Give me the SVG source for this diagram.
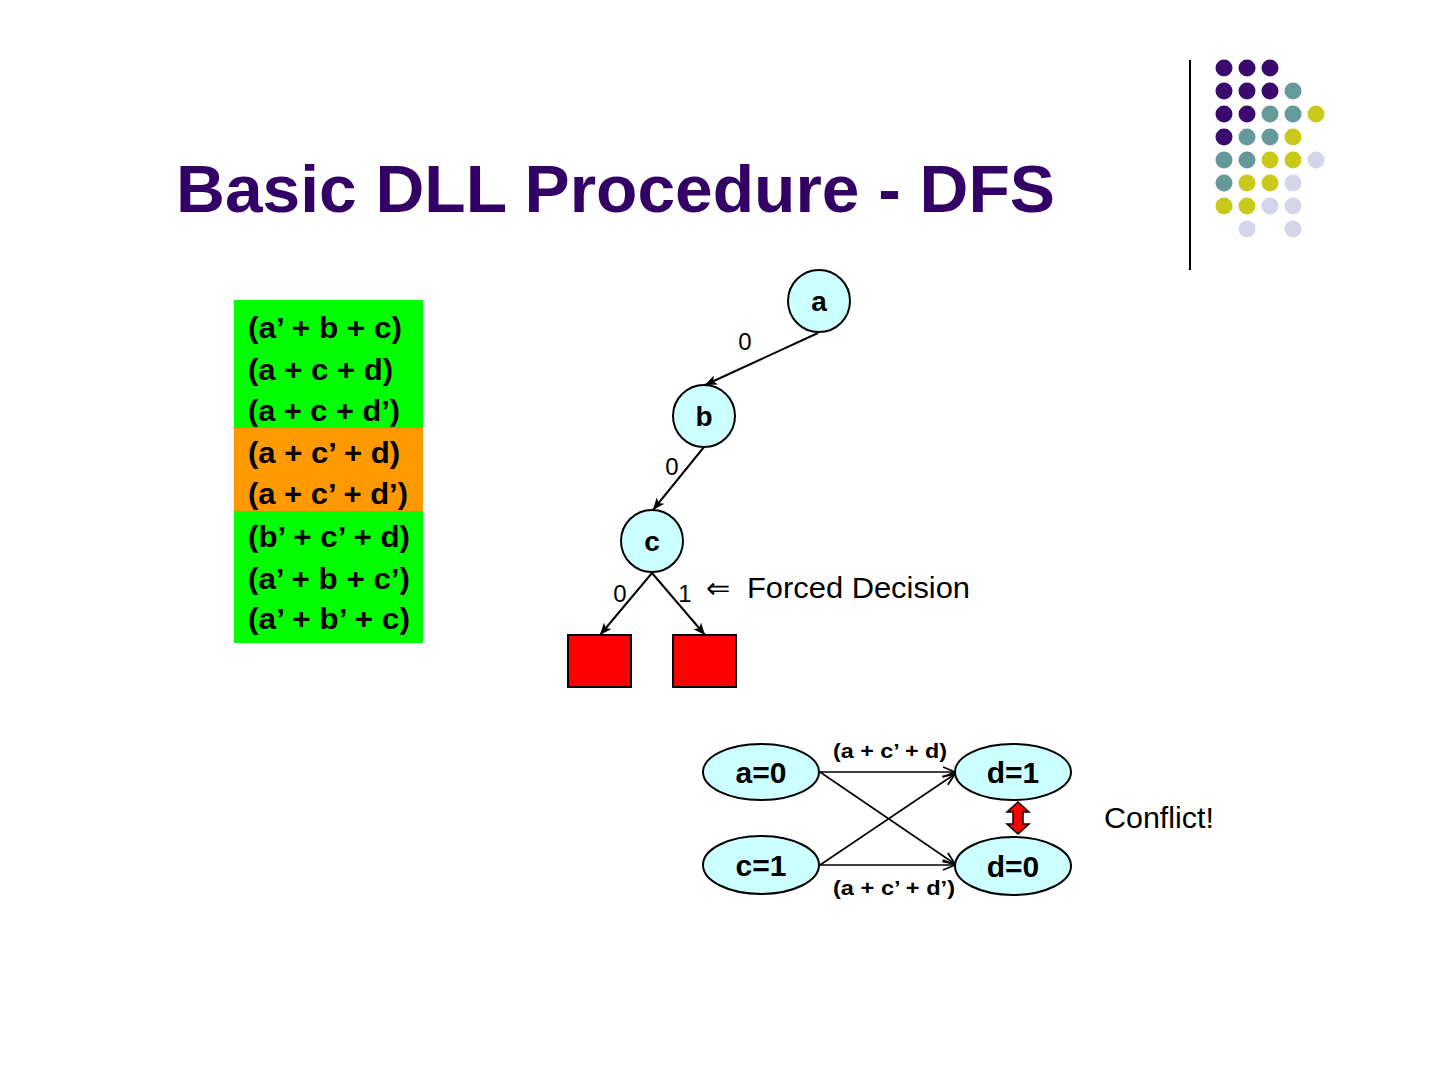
<svg xmlns="http://www.w3.org/2000/svg" width="1440" height="1080" viewBox="0 0 1440 1080">
<style>
  .title{font-family:"Liberation Sans",Arial,sans-serif;font-weight:bold;font-size:67px;fill:#330066}
  .clause{font-family:"Liberation Sans",Arial,sans-serif;font-weight:bold;font-size:29px;fill:#000}
  .node{fill:#CCFFFF;stroke:#000;stroke-width:2}
  .nlabel{font-family:"Liberation Sans",Arial,sans-serif;font-weight:bold;font-size:28px;fill:#000;text-anchor:middle}
  .olabel{font-family:"Liberation Sans",Arial,sans-serif;font-weight:bold;font-size:30px;fill:#000;text-anchor:middle}
  .elabel{font-family:"Liberation Sans",Arial,sans-serif;font-size:24px;fill:#000;text-anchor:middle}
  .blabel{font-family:"Liberation Sans",Arial,sans-serif;font-weight:bold;font-size:20px;fill:#000}
  .plain{font-family:"Liberation Sans",Arial,sans-serif;font-size:29px;fill:#000}
  .leaf{fill:#FF0000;stroke:#000;stroke-width:2}
  .edge{stroke:#000;stroke-width:2;fill:none}
  .iedge{stroke:#000;stroke-width:1.6;fill:none}
  .P{fill:#3A0A6C}.T{fill:#669999}.Y{fill:#C9C91A}.L{fill:#D5D5EA}
</style>
<defs>
  <marker id="tri" viewBox="0 0 12 10" refX="12" refY="5" markerWidth="12" markerHeight="10" markerUnits="userSpaceOnUse" orient="auto">
    <path d="M0,0 L12,5 L0,10 L3,5 Z" fill="#000"/>
  </marker>
  <marker id="vee" viewBox="0 0 14 12" refX="13" refY="6" markerWidth="14" markerHeight="12" markerUnits="userSpaceOnUse" orient="auto">
    <path d="M1,1 L13,6 L1,11" fill="none" stroke="#000" stroke-width="1.8"/>
  </marker>
</defs>
<rect width="1440" height="1080" fill="#fff"/>

<g id="decoration">
  <line x1="1190" y1="60" x2="1190" y2="270" stroke="#000" stroke-width="2"/>
  <g>
    <circle class="P" cx="1224" cy="68" r="8.5"/><circle class="P" cx="1247" cy="68" r="8.5"/><circle class="P" cx="1270" cy="68" r="8.5"/>
    <circle class="P" cx="1224" cy="91" r="8.5"/><circle class="P" cx="1247" cy="91" r="8.5"/><circle class="P" cx="1270" cy="91" r="8.5"/><circle class="T" cx="1293" cy="91" r="8.5"/>
    <circle class="P" cx="1224" cy="114" r="8.5"/><circle class="P" cx="1247" cy="114" r="8.5"/><circle class="T" cx="1270" cy="114" r="8.5"/><circle class="T" cx="1293" cy="114" r="8.5"/><circle class="Y" cx="1316" cy="114" r="8.5"/>
    <circle class="P" cx="1224" cy="137" r="8.5"/><circle class="T" cx="1247" cy="137" r="8.5"/><circle class="T" cx="1270" cy="137" r="8.5"/><circle class="Y" cx="1293" cy="137" r="8.5"/>
    <circle class="T" cx="1224" cy="160" r="8.5"/><circle class="T" cx="1247" cy="160" r="8.5"/><circle class="Y" cx="1270" cy="160" r="8.5"/><circle class="Y" cx="1293" cy="160" r="8.5"/><circle class="L" cx="1316" cy="160" r="8.5"/>
    <circle class="T" cx="1224" cy="183" r="8.5"/><circle class="Y" cx="1247" cy="183" r="8.5"/><circle class="Y" cx="1270" cy="183" r="8.5"/><circle class="L" cx="1293" cy="183" r="8.5"/>
    <circle class="Y" cx="1224" cy="206" r="8.5"/><circle class="Y" cx="1247" cy="206" r="8.5"/><circle class="L" cx="1270" cy="206" r="8.5"/><circle class="L" cx="1293" cy="206" r="8.5"/>
    <circle class="L" cx="1247" cy="229" r="8.5"/><circle class="L" cx="1293" cy="229" r="8.5"/>
  </g>
</g>

<text class="title" x="176" y="212" textLength="879" lengthAdjust="spacingAndGlyphs">Basic DLL Procedure - DFS</text>

<g id="clauses">
  <rect x="234" y="300" width="189" height="128" fill="#00FF00"/>
  <rect x="234" y="428" width="189" height="83" fill="#FF9900"/>
  <rect x="234" y="511" width="189" height="132" fill="#00FF00"/>
  <text class="clause" x="248" y="338" textLength="154" lengthAdjust="spacingAndGlyphs">(a’ + b + c)</text>
  <text class="clause" x="248" y="380" textLength="145" lengthAdjust="spacingAndGlyphs">(a + c + d)</text>
  <text class="clause" x="248" y="421" textLength="152" lengthAdjust="spacingAndGlyphs">(a + c + d’)</text>
  <text class="clause" x="248" y="463" textLength="152" lengthAdjust="spacingAndGlyphs">(a + c’ + d)</text>
  <text class="clause" x="248" y="504" textLength="160" lengthAdjust="spacingAndGlyphs">(a + c’ + d’)</text>
  <text class="clause" x="248" y="547" textLength="162" lengthAdjust="spacingAndGlyphs">(b’ + c’ + d)</text>
  <text class="clause" x="248" y="589" textLength="162" lengthAdjust="spacingAndGlyphs">(a’ + b + c’)</text>
  <text class="clause" x="248" y="629" textLength="162" lengthAdjust="spacingAndGlyphs">(a’ + b’ + c)</text>
</g>

<g id="connectors">
  <line class="edge" x1="818" y1="333" x2="705" y2="385" marker-end="url(#tri)"/>
  <line class="edge" x1="704" y1="447" x2="653" y2="510" marker-end="url(#tri)"/>
  <line class="edge" x1="652" y1="573" x2="600" y2="635" marker-end="url(#tri)"/>
  <line class="edge" x1="652" y1="573" x2="705" y2="635" marker-end="url(#tri)"/>
  <text class="elabel" x="745" y="350">0</text>
  <text class="elabel" x="672" y="475">0</text>
  <text class="elabel" x="620" y="602">0</text>
  <text class="elabel" x="685" y="602">1</text>

  <line class="iedge" x1="820" y1="772" x2="955" y2="772" marker-end="url(#vee)"/>
  <line class="iedge" x1="820" y1="772" x2="955" y2="864" marker-end="url(#vee)"/>
  <line class="iedge" x1="820" y1="865" x2="955" y2="774" marker-end="url(#vee)"/>
  <line class="iedge" x1="820" y1="865" x2="955" y2="865" marker-end="url(#vee)"/>
  <text class="blabel" x="833" y="758" textLength="114" lengthAdjust="spacingAndGlyphs">(a + c’ + d)</text>
  <text class="blabel" x="833" y="895" textLength="122" lengthAdjust="spacingAndGlyphs">(a + c’ + d’)</text>
  <path d="M1018,802 L1029,812 L1023,812 L1023,824 L1029,824 L1018,834 L1007,824 L1013,824 L1013,812 L1007,812 Z" fill="#FF0000" stroke="#000" stroke-width="1.5"/>
</g>

<g id="node-a"><circle class="node" cx="819" cy="301" r="31"/><text class="nlabel" x="819" y="311">a</text></g>
<g id="node-b"><circle class="node" cx="704" cy="416" r="31"/><text class="nlabel" x="704" y="426">b</text></g>
<g id="node-c"><circle class="node" cx="652" cy="541" r="31"/><text class="nlabel" x="652" y="551">c</text></g>
<g id="leaf-0"><rect class="leaf" x="568" y="635" width="63" height="52"/></g>
<g id="leaf-1"><rect class="leaf" x="673" y="635" width="63" height="52"/></g>
<g id="forced">
  <text class="plain" x="706" y="598">⇐</text>
  <text class="plain" x="747" y="598" textLength="223" lengthAdjust="spacingAndGlyphs">Forced Decision</text>
</g>

<g id="node-a0"><ellipse class="node" cx="761" cy="772" rx="58" ry="28"/><text class="olabel" x="761" y="783">a=0</text></g>
<g id="node-c1"><ellipse class="node" cx="761" cy="865" rx="58" ry="29"/><text class="olabel" x="761" y="876">c=1</text></g>
<g id="node-d1"><ellipse class="node" cx="1013" cy="772" rx="58" ry="28"/><text class="olabel" x="1013" y="783">d=1</text></g>
<g id="node-d0"><ellipse class="node" cx="1013" cy="866" rx="58" ry="29"/><text class="olabel" x="1013" y="877">d=0</text></g>
<g id="conflict"><text class="plain" x="1104" y="828" textLength="110" lengthAdjust="spacingAndGlyphs">Conflict!</text></g>
</svg>
